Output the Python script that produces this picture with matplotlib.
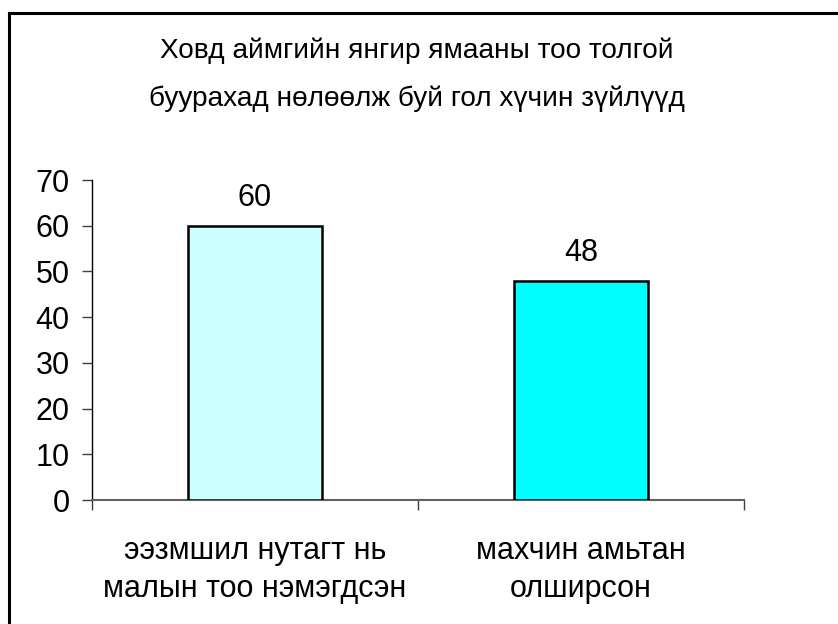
import matplotlib
matplotlib.use("Agg")
import matplotlib.pyplot as plt
from matplotlib.lines import Line2D

plt.rcParams['font.family'] = ['Liberation Sans', 'DejaVu Sans']
FS = 22
TFS = 20.2

title_lines = ["Ховд аймгийн янгир ямааны тоо толгой", "буурахад нөлөөлж буй гол хүчин зүйлүүд"]
categories = ["ээзмшил нутагт нь\nмалын тоо нэмэгдсэн", "махчин амьтан\nолширсон"]
values = [60, 48]
colors = ["#CCFFFF", "#00FFFF"]
yticks = [0, 10, 20, 30, 40, 50, 60, 70]

W, H = 838, 624
fig = plt.figure(figsize=(W / 100, H / 100), dpi=100)
fig.patch.set_facecolor("white")

ax = fig.add_axes([92 / W, (H - 500) / H, (744 - 92) / W, (500 - 180) / H])
x = list(range(len(categories)))
bars = ax.bar(x, values, width=0.41, color=colors, edgecolor="black", linewidth=1.8, zorder=3)
ax.set_xlim(-0.5, len(categories) - 0.5)
ax.set_ylim(0, 70)
ax.set_yticks(yticks)
ax.set_yticklabels([str(t) for t in yticks], fontsize=FS)
ax.tick_params(axis="y", direction="out", length=7, width=1, pad=9, color="#404040")

ax.set_xticks(x)
ax.set_xticklabels(categories, fontsize=FS, linespacing=1.33)
ax.tick_params(axis="x", which="major", length=0, pad=26)
ax.set_xticks([i - 0.5 for i in range(len(categories) + 1)], minor=True)
ax.tick_params(axis="x", which="minor", direction="out", length=7, width=1, color="#404040")

for s in ["top", "right"]:
    ax.spines[s].set_visible(False)
ax.spines["left"].set_color("black")
ax.spines["left"].set_linewidth(1)
ax.spines["bottom"].set_color("#606060")
ax.spines["bottom"].set_linewidth(1.5)

for b, v in zip(bars, values):
    ax.annotate(str(v), (b.get_x() + b.get_width() / 2, v), xytext=(0, 9),
                textcoords="offset points", ha="center", va="bottom", fontsize=FS)

fig.text(417 / W, 1 - 51 / H, title_lines[0], ha="center", va="center", fontsize=TFS)
fig.text(417 / W, 1 - 99 / H, title_lines[1], ha="center", va="center", fontsize=TFS)

# outer chart border (top and left visible)
fig.add_artist(Line2D([9 / W, 1.0], [1 - 13 / H, 1 - 13 / H], transform=fig.transFigure, color="black", linewidth=2.2))
fig.add_artist(Line2D([9 / W, 9 / W], [0.0, 1 - 13 / H], transform=fig.transFigure, color="black", linewidth=2.2))

fig.savefig("out.png", dpi=100, facecolor="white")
